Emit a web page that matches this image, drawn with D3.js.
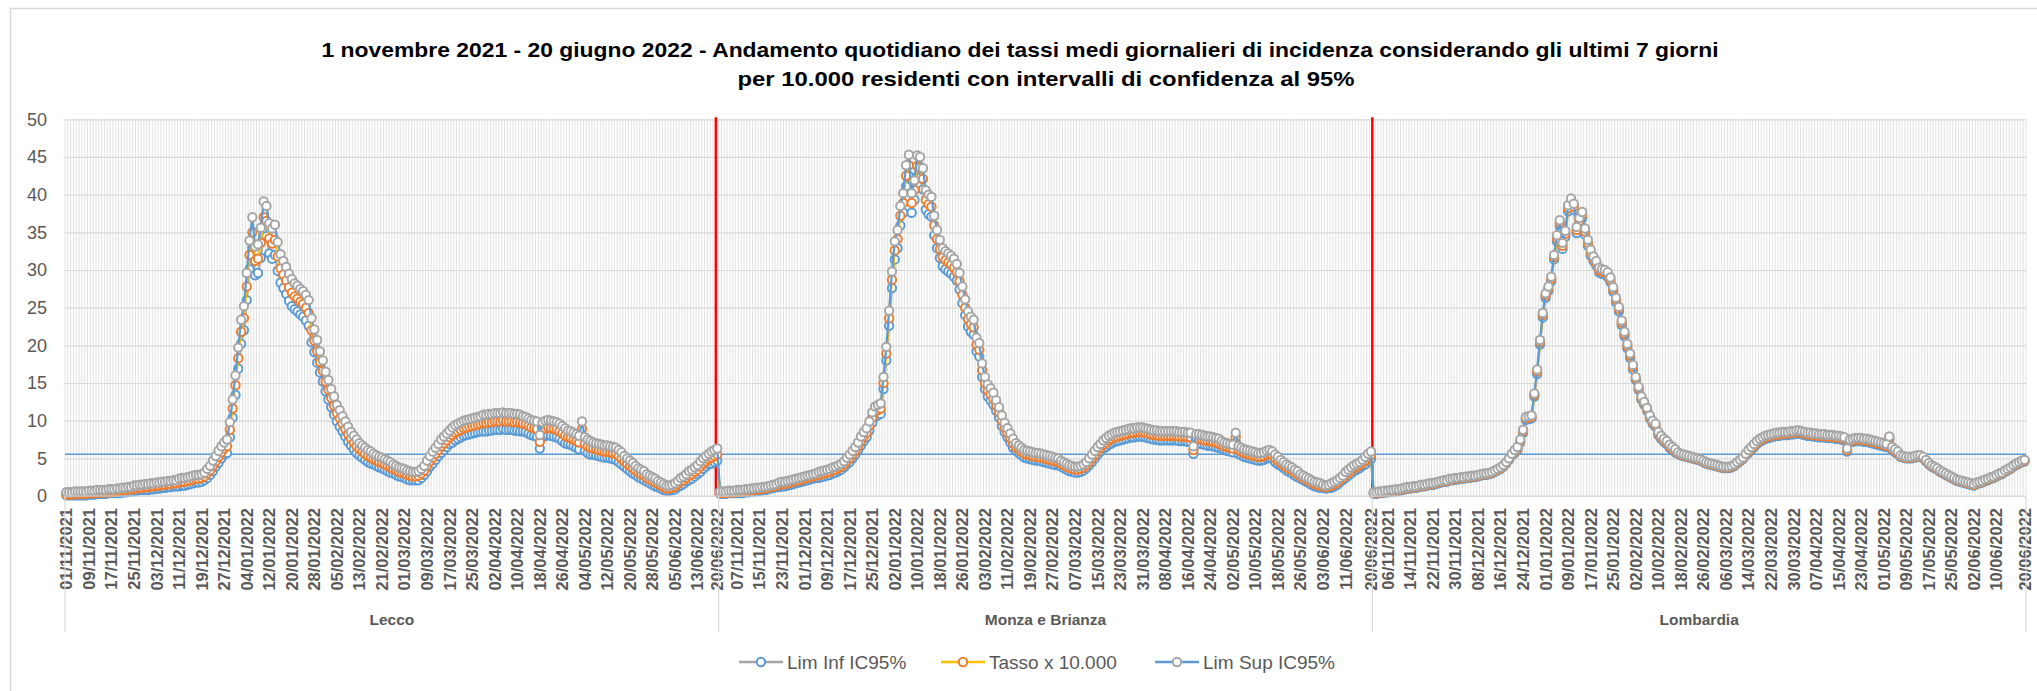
<!DOCTYPE html>
<html>
<head>
<meta charset="utf-8">
<script src="https://cdn.jsdelivr.net/npm/d3@7"></script>
<style>
  html, body { margin: 0; padding: 0; background: #fff; }
  svg { display: block; }
  text { font-family: "Liberation Sans", Arial, sans-serif; }
</style>
</head>
<body>
<div id="chart"></div>
<script>
// ---------- data ----------
const groups = ["Lecco", "Monza e Brianza", "Lombardia"];
const firstDay = new Date(2021, 10, 1), lastDay = new Date(2022, 5, 20);

const lecTasso = [
  0.2,0.2,0.2,0.3,0.3,0.3,0.3,0.3,0.4,0.4, 0.4,0.5,0.5,0.5,0.5,0.6,0.6,0.6,0.7,0.7,
  0.8,0.8,0.9,0.9,1.0,1.0,1.1,1.1,1.2,1.2, 1.3,1.3,1.4,1.4,1.5,1.5,1.6,1.6,1.7,1.7,
  1.8,1.9,1.9,2.0,2.1,2.2,2.3,2.3,2.4,2.6, 3.0,3.4,4.0,4.6,5.2,5.8,6.3,6.6,8.8,11.6,
  14.7,18.3,21.8,23.6,27.8,32.0,35.0,31.2,31.5,33.6, 37.0,36.5,34.2,33.5,34.0,31.8,30.2,29.4,28.6,27.7,
  27.0,26.5,26.2,25.8,25.5,25.0,24.3,22.0,20.6,19.2, 17.8,16.6,15.2,14.1,13.0,12.0,11.0,10.3,9.6,8.9,
  8.2,7.6,7.1,6.6,6.2,5.9,5.6,5.3,5.1,4.9, 4.7,4.5,4.4,4.2,4.0,3.8,3.6,3.4,3.2,3.1,
  3.0,2.8,2.7,2.6,2.6,2.7,3.0,3.4,4.0,4.6, 5.1,5.6,6.1,6.6,7.0,7.4,7.8,8.1,8.4,8.6,
  8.8,9.0,9.1,9.2,9.3,9.4,9.5,9.6,9.7,9.7, 9.8,9.8,9.9,9.9,9.9,10.0,9.9,9.9,9.9,9.8,
  9.8,9.7,9.6,9.5,9.3,9.1,9.0,8.9,7.2,8.8, 9.0,9.1,9.0,8.9,8.8,8.6,8.3,8.0,7.8,7.7,
  7.5,7.3,7.1,8.9,6.9,6.6,6.4,6.3,6.2,6.1, 6.0,5.9,5.9,5.8,5.7,5.6,5.3,5.0,4.6,4.3,
  4.0,3.7,3.4,3.1,2.9,2.7,2.4,2.2,2.0,1.8, 1.6,1.4,1.2,1.0,1.0,1.1,1.3,1.6,1.9,2.1,
  2.4,2.7,2.9,3.2,3.5,3.9,4.3,4.6,4.9,5.1, 5.3,5.5
];
const lecSup = [
  0.5,0.5,0.5,0.6,0.6,0.6,0.6,0.6,0.7,0.7, 0.7,0.8,0.8,0.8,0.8,0.9,0.9,0.9,1.0,1.0,
  1.1,1.1,1.2,1.2,1.4,1.4,1.5,1.5,1.6,1.6, 1.7,1.7,1.8,1.8,1.9,1.9,2.0,2.0,2.1,2.1,
  2.3,2.4,2.4,2.5,2.6,2.7,2.8,2.8,2.9,3.1, 3.6,4.0,4.7,5.3,6.0,6.6,7.1,7.5,9.8,12.8,
  16.0,19.7,23.4,25.2,29.6,33.9,37.0,33.1,33.4,35.6, 39.1,38.5,36.2,35.5,36.0,33.7,32.1,31.2,30.4,29.5,
  28.8,28.2,27.9,27.5,27.2,26.7,26.0,23.6,22.1,20.7, 19.2,18.0,16.5,15.4,14.2,13.2,12.1,11.4,10.6,9.9,
  9.2,8.5,8.0,7.5,7.0,6.7,6.4,6.1,5.9,5.6, 5.4,5.2,5.1,4.9,4.7,4.5,4.2,4.0,3.8,3.7,
  3.6,3.4,3.3,3.2,3.2,3.3,3.6,4.0,4.7,5.3, 5.9,6.4,6.9,7.5,7.9,8.3,8.7,9.1,9.4,9.6,
  9.8,10.0,10.1,10.2,10.3,10.4,10.5,10.6,10.8,10.8, 10.9,10.9,11.0,11.0,11.0,11.1,11.0,11.0,11.0,10.9,
  10.9,10.8,10.6,10.5,10.3,10.1,10.0,9.9,8.1,9.8, 10.0,10.1,10.0,9.9,9.8,9.6,9.3,9.0,8.7,8.6,
  8.4,8.2,8.0,9.9,7.8,7.5,7.3,7.1,7.0,6.9, 6.8,6.7,6.7,6.6,6.5,6.4,6.1,5.8,5.3,5.0,
  4.7,4.4,4.0,3.7,3.5,3.3,2.9,2.7,2.5,2.3, 2.0,1.8,1.6,1.4,1.4,1.5,1.7,2.0,2.4,2.6,
  2.9,3.3,3.5,3.8,4.1,4.6,5.0,5.3,5.6,5.9, 6.1,6.3
];
const lecInf = [
  0.1,0.1,0.1,0.1,0.1,0.1,0.1,0.1,0.2,0.2, 0.2,0.3,0.3,0.3,0.3,0.4,0.4,0.4,0.4,0.4,
  0.5,0.5,0.6,0.6,0.7,0.7,0.8,0.8,0.8,0.8, 0.9,0.9,1.0,1.0,1.1,1.1,1.2,1.2,1.3,1.3,
  1.3,1.4,1.4,1.5,1.6,1.7,1.8,1.8,1.9,2.1, 2.4,2.8,3.3,3.9,4.4,5.0,5.5,5.7,7.8,10.4,
  13.4,16.9,20.2,22.0,26.0,30.1,33.0,29.3,29.6,31.6, 34.9,34.5,32.2,31.5,32.0,29.9,28.3,27.6,26.8,25.9,
  25.2,24.8,24.5,24.1,23.8,23.3,22.6,20.4,19.1,17.7, 16.4,15.2,13.9,12.8,11.8,10.8,9.9,9.2,8.6,7.9,
  7.2,6.7,6.2,5.7,5.4,5.1,4.8,4.5,4.3,4.2, 4.0,3.8,3.7,3.5,3.3,3.1,3.0,2.8,2.6,2.5,
  2.4,2.2,2.1,2.1,2.1,2.1,2.4,2.8,3.3,3.9, 4.3,4.8,5.3,5.7,6.1,6.5,6.9,7.1,7.4,7.6,
  7.8,8.0,8.1,8.2,8.3,8.4,8.5,8.6,8.6,8.6, 8.7,8.7,8.8,8.8,8.8,8.9,8.8,8.8,8.8,8.7,
  8.7,8.6,8.6,8.5,8.3,8.1,8.0,7.9,6.3,7.8, 8.0,8.1,8.0,7.9,7.8,7.6,7.3,7.0,6.9,6.8,
  6.6,6.4,6.2,7.9,6.0,5.7,5.5,5.5,5.4,5.3, 5.2,5.1,5.1,5.0,4.9,4.8,4.5,4.2,3.9,3.6,
  3.3,3.0,2.8,2.5,2.3,2.1,1.9,1.7,1.5,1.3, 1.2,1.0,0.8,0.7,0.7,0.8,0.9,1.2,1.4,1.6,
  1.9,2.1,2.3,2.6,2.9,3.2,3.6,3.9,4.2,4.3, 4.5,4.7
];

const monTasso = [
  0.4,0.4,0.4,0.5,0.5,0.5,0.6,0.6,0.6,0.7, 0.7,0.8,0.8,0.9,0.9,1.0,1.0,1.1,1.2,1.3,
  1.4,1.5,1.6,1.6,1.7,1.8,1.9,2.0,2.1,2.2, 2.3,2.4,2.5,2.6,2.7,2.8,2.9,3.0,3.1,3.2,
  3.4,3.5,3.7,3.9,4.2,4.6,5.0,5.5,6.0,6.6, 7.3,7.9,8.4,9.3,10.4,11.2,11.4,11.6,15.0,18.9,
  23.6,28.7,32.6,34.1,37.2,38.9,42.5,43.9,38.9,40.6, 43.8,43.6,42.1,39.3,38.7,38.4,35.9,34.1,32.8,31.7,
  31.3,31.0,30.7,30.3,29.7,28.5,26.7,25.0,23.5,22.8, 22.4,20.1,19.4,16.7,15.0,14.0,13.5,12.9,12.0,11.1,
  10.0,9.1,8.4,7.7,7.0,6.5,6.2,5.9,5.6,5.5, 5.4,5.3,5.2,5.2,5.1,5.0,4.9,4.8,4.7,4.6,
  4.5,4.3,4.1,3.9,3.7,3.6,3.5,3.5,3.6,3.8, 4.1,4.5,5.0,5.5,6.0,6.4,6.8,7.1,7.4,7.6,
  7.8,7.9,8.0,8.1,8.2,8.3,8.4,8.4,8.5,8.5, 8.5,8.4,8.3,8.2,8.1,8.1,8.0,8.0,8.0,8.0,
  8.0,8.0,8.0,7.9,7.9,7.9,7.8,7.8,6.1,7.6, 7.6,7.5,7.4,7.3,7.3,7.2,7.1,7.0,6.8,6.6,
  6.5,6.4,6.3,7.8,6.1,5.9,5.7,5.6,5.5,5.4, 5.3,5.2,5.2,5.3,5.5,5.6,5.4,5.0,4.7,4.4,
  4.1,3.8,3.6,3.4,3.1,2.9,2.6,2.4,2.2,2.0, 1.8,1.6,1.5,1.4,1.3,1.2,1.3,1.4,1.6,1.8,
  2.1,2.4,2.8,3.1,3.4,3.7,3.9,4.1,4.4,4.7, 5.1,5.4
];
const monSup = [
  0.6,0.6,0.6,0.7,0.7,0.7,0.8,0.8,0.8,0.9, 0.9,1.0,1.0,1.1,1.1,1.2,1.2,1.3,1.4,1.5,
  1.6,1.8,1.9,1.9,2.0,2.1,2.2,2.3,2.4,2.5, 2.6,2.7,2.8,2.9,3.0,3.2,3.3,3.4,3.5,3.6,
  3.8,3.9,4.1,4.3,4.6,5.1,5.5,6.0,6.5,7.1, 7.9,8.5,9.0,9.9,11.1,11.9,12.1,12.3,15.8,19.8,
  24.6,29.8,33.8,35.3,38.5,40.2,43.9,45.3,40.2,41.9, 45.2,45.0,43.5,40.6,40.0,39.7,37.2,35.3,34.0,32.9,
  32.5,32.2,31.9,31.5,30.8,29.6,27.8,26.1,24.5,23.8, 23.4,21.0,20.3,17.6,15.8,14.8,14.3,13.7,12.7,11.8,
  10.7,9.7,9.0,8.3,7.6,7.0,6.7,6.4,6.1,6.0, 5.9,5.8,5.7,5.7,5.6,5.5,5.4,5.3,5.2,5.1,
  5.0,4.7,4.5,4.3,4.1,4.0,3.9,3.9,4.0,4.2, 4.5,5.0,5.5,6.0,6.5,6.9,7.4,7.7,8.0,8.2,
  8.4,8.5,8.6,8.7,8.8,8.9,9.0,9.0,9.1,9.1, 9.1,9.0,8.9,8.8,8.7,8.7,8.6,8.6,8.6,8.6,
  8.6,8.6,8.6,8.5,8.5,8.5,8.4,8.4,6.6,8.2, 8.2,8.1,8.0,7.9,7.9,7.8,7.7,7.6,7.3,7.1,
  7.0,6.9,6.8,8.4,6.6,6.4,6.2,6.1,6.0,5.9, 5.8,5.7,5.7,5.8,6.0,6.1,5.9,5.5,5.2,4.8,
  4.5,4.2,4.0,3.8,3.5,3.3,2.9,2.7,2.5,2.3, 2.1,1.9,1.8,1.7,1.5,1.4,1.5,1.7,1.9,2.1,
  2.4,2.7,3.2,3.5,3.8,4.1,4.3,4.5,4.8,5.2, 5.6,5.9
];
const monInf = [
  0.3,0.3,0.3,0.4,0.4,0.4,0.4,0.4,0.4,0.5, 0.5,0.6,0.6,0.7,0.7,0.8,0.8,0.9,1.0,1.1,
  1.2,1.2,1.3,1.3,1.4,1.5,1.6,1.7,1.8,1.9, 2.0,2.1,2.2,2.3,2.4,2.4,2.5,2.6,2.7,2.8,
  3.0,3.1,3.3,3.5,3.8,4.2,4.5,5.0,5.5,6.1, 6.7,7.3,7.8,8.7,9.7,10.5,10.7,10.9,14.2,18.0,
  22.6,27.6,31.4,32.9,35.9,37.6,41.1,42.5,37.6,39.3, 42.4,42.2,40.7,38.0,37.4,37.1,34.6,32.9,31.6,30.5,
  30.1,29.8,29.5,29.1,28.6,27.4,25.6,24.0,22.5,21.8, 21.4,19.2,18.5,15.8,14.2,13.2,12.7,12.1,11.3,10.4,
  9.3,8.5,7.8,7.1,6.4,6.0,5.7,5.4,5.1,5.0, 4.9,4.8,4.7,4.7,4.6,4.5,4.4,4.3,4.2,4.1,
  4.1,3.9,3.7,3.5,3.3,3.2,3.1,3.1,3.2,3.4, 3.7,4.1,4.5,5.0,5.5,5.9,6.3,6.5,6.8,7.0,
  7.2,7.3,7.4,7.5,7.6,7.7,7.8,7.8,7.9,7.9, 7.9,7.8,7.7,7.6,7.5,7.5,7.4,7.4,7.4,7.4,
  7.4,7.4,7.4,7.3,7.3,7.3,7.2,7.2,5.6,7.0, 7.0,6.9,6.8,6.7,6.7,6.6,6.5,6.4,6.3,6.1,
  6.0,5.9,5.8,7.2,5.6,5.4,5.2,5.1,5.0,4.9, 4.8,4.7,4.7,4.8,5.0,5.1,4.9,4.5,4.2,4.0,
  3.7,3.4,3.2,3.0,2.7,2.5,2.3,2.1,1.9,1.7, 1.5,1.3,1.2,1.1,1.1,1.0,1.1,1.1,1.3,1.5,
  1.8,2.1,2.4,2.7,3.0,3.3,3.5,3.7,4.0,4.2, 4.6,4.9
];

const lomTasso = [
  0.4,0.4,0.5,0.5,0.6,0.6,0.7,0.7,0.8,0.8, 0.9,1.0,1.1,1.1,1.2,1.2,1.3,1.4,1.4,1.5,
  1.6,1.6,1.7,1.8,1.9,2.0,2.0,2.2,2.2,2.3, 2.3,2.4,2.4,2.5,2.5,2.6,2.6,2.7,2.8,2.9,
  2.9,3.0,3.1,3.3,3.5,3.7,4.0,4.4,4.9,5.5, 5.9,6.3,7.3,8.6,10.3,10.4,10.5,13.4,16.5,20.4,
  24.0,26.6,27.5,28.8,31.7,34.2,36.2,33.2,34.8,38.2, 39.1,38.4,35.3,36.5,37.3,35.1,33.6,32.3,31.5,30.9,
  30.0,29.8,29.7,29.4,28.7,27.4,26.0,24.8,23.0,21.5, 19.9,18.6,17.1,15.6,14.3,13.0,12.3,11.5,10.5,9.8,
  9.4,8.3,7.8,7.4,7.1,6.6,6.3,6.0,5.7,5.5, 5.4,5.3,5.2,5.1,5.0,4.9,4.8,4.6,4.4,4.3,
  4.2,4.1,4.0,3.9,3.8,3.8,3.8,3.9,4.1,4.4, 4.7,5.0,5.5,5.9,6.3,6.7,7.1,7.4,7.6,7.8,
  7.9,8.0,8.1,8.2,8.2,8.3,8.3,8.3,8.4,8.4, 8.5,8.5,8.4,8.3,8.2,8.2,8.1,8.1,8.0,8.0,
  8.0,7.9,7.9,7.9,7.8,7.8,7.7,7.6,6.1,7.3, 7.4,7.5,7.5,7.5,7.4,7.4,7.3,7.2,7.1,7.0,
  6.9,6.8,6.7,7.7,6.3,6.0,5.7,5.3,5.2,5.1, 5.1,5.1,5.2,5.3,5.3,5.1,4.7,4.3,4.0,3.8,
  3.6,3.3,3.1,2.9,2.7,2.5,2.3,2.1,2.0,1.9, 1.8,1.7,1.6,1.5,1.7,1.8,1.9,2.1,2.2,2.4,
  2.5,2.7,2.9,3.0,3.3,3.5,3.7,4.0,4.2,4.4, 4.6,4.7
];
const lomSup = [
  0.5,0.5,0.6,0.6,0.7,0.7,0.8,0.8,0.9,0.9, 1.0,1.1,1.2,1.2,1.3,1.3,1.4,1.5,1.5,1.6,
  1.7,1.7,1.8,1.9,2.0,2.1,2.1,2.3,2.3,2.4, 2.4,2.5,2.5,2.6,2.6,2.7,2.7,2.8,2.9,3.0,
  3.0,3.1,3.2,3.4,3.6,3.8,4.1,4.5,5.0,5.6, 6.1,6.5,7.5,8.8,10.5,10.6,10.7,13.6,16.8,20.7,
  24.3,26.9,27.8,29.1,32.0,34.6,36.6,33.6,35.2,38.6, 39.5,38.8,35.7,36.9,37.7,35.5,34.0,32.7,31.8,31.2,
  30.3,30.1,30.0,29.7,29.0,27.7,26.3,25.1,23.3,21.8, 20.2,18.9,17.4,15.8,14.5,13.2,12.5,11.7,10.7,10.0,
  9.6,8.5,8.0,7.6,7.3,6.8,6.5,6.2,5.8,5.6, 5.5,5.4,5.3,5.2,5.1,5.0,4.9,4.7,4.5,4.4,
  4.3,4.2,4.1,4.0,3.9,3.9,3.9,4.0,4.2,4.5, 4.8,5.1,5.6,6.1,6.5,6.9,7.3,7.6,7.8,8.0,
  8.1,8.2,8.3,8.4,8.4,8.5,8.5,8.5,8.6,8.6, 8.7,8.7,8.6,8.5,8.4,8.4,8.3,8.3,8.2,8.2,
  8.2,8.1,8.1,8.1,8.0,8.0,7.9,7.8,6.3,7.5, 7.6,7.7,7.7,7.7,7.6,7.6,7.5,7.4,7.3,7.2,
  7.1,7.0,6.9,7.9,6.5,6.2,5.9,5.4,5.3,5.2, 5.2,5.2,5.3,5.4,5.4,5.2,4.8,4.4,4.1,3.9,
  3.7,3.4,3.2,3.0,2.8,2.6,2.4,2.2,2.1,2.0, 1.9,1.8,1.7,1.6,1.8,1.9,2.0,2.2,2.3,2.5,
  2.6,2.8,3.0,3.1,3.4,3.6,3.8,4.1,4.3,4.5, 4.7,4.8
];
const lomInf = [
  0.3,0.3,0.4,0.4,0.5,0.5,0.6,0.6,0.7,0.7, 0.8,0.9,1.0,1.0,1.1,1.1,1.2,1.3,1.3,1.4,
  1.5,1.5,1.6,1.7,1.8,1.9,1.9,2.1,2.1,2.2, 2.2,2.3,2.3,2.4,2.4,2.5,2.5,2.6,2.7,2.8,
  2.8,2.9,3.0,3.2,3.4,3.6,3.9,4.3,4.8,5.4, 5.7,6.1,7.1,8.4,10.1,10.2,10.3,13.2,16.2,20.1,
  23.7,26.3,27.2,28.5,31.4,33.8,35.8,32.8,34.4,37.8, 38.7,38.0,34.9,36.1,36.9,34.7,33.2,31.9,31.2,30.6,
  29.7,29.5,29.4,29.1,28.4,27.1,25.7,24.5,22.7,21.2, 19.6,18.3,16.8,15.4,14.1,12.8,12.1,11.3,10.3,9.6,
  9.2,8.1,7.6,7.2,6.9,6.4,6.1,5.8,5.6,5.4, 5.3,5.2,5.1,5.0,4.9,4.8,4.7,4.5,4.3,4.2,
  4.1,4.0,3.9,3.8,3.7,3.7,3.7,3.8,4.0,4.3, 4.6,4.9,5.4,5.7,6.1,6.5,6.9,7.2,7.4,7.6,
  7.7,7.8,7.9,8.0,8.0,8.1,8.1,8.1,8.2,8.2, 8.3,8.3,8.2,8.1,8.0,8.0,7.9,7.9,7.8,7.8,
  7.8,7.7,7.7,7.7,7.6,7.6,7.5,7.4,5.9,7.1, 7.2,7.3,7.3,7.3,7.2,7.2,7.1,7.0,6.9,6.8,
  6.7,6.6,6.5,7.5,6.1,5.8,5.6,5.2,5.1,5.0, 5.0,5.0,5.1,5.2,5.2,5.0,4.6,4.2,3.9,3.7,
  3.5,3.2,3.0,2.8,2.6,2.4,2.2,2.0,1.9,1.8, 1.7,1.6,1.5,1.4,1.6,1.7,1.8,2.0,2.1,2.3,
  2.4,2.6,2.8,2.9,3.2,3.4,3.6,3.9,4.1,4.3, 4.5,4.6
];

// horizontal reference line drawn across the whole plot
const refLine = 5.55;

// tick labels shown on the date axis, per group
const lecTicks = ["01/11/2021","09/11/2021","17/11/2021","25/11/2021","03/12/2021","11/12/2021","19/12/2021","27/12/2021",
  "04/01/2022","12/01/2022","20/01/2022","28/01/2022","05/02/2022","13/02/2022","21/02/2022","01/03/2022","09/03/2022",
  "17/03/2022","25/03/2022","02/04/2022","10/04/2022","18/04/2022","26/04/2022","04/05/2022","12/05/2022","20/05/2022",
  "28/05/2022","05/06/2022","13/06/2022","20/06/2022"];
const monTicks = ["07/11/2021","15/11/2021","23/11/2021","01/12/2021","09/12/2021","17/12/2021","25/12/2021","02/01/2022",
  "10/01/2022","18/01/2022","26/01/2022","03/02/2022","11/02/2022","19/02/2022","27/02/2022","07/03/2022","15/03/2022",
  "23/03/2022","31/03/2022","08/04/2022","16/04/2022","24/04/2022","02/05/2022","10/05/2022","18/05/2022","26/05/2022",
  "03/06/2022","11/06/2022","20/06/2022"];
const lomTicks = ["06/11/2021","14/11/2021","22/11/2021","30/11/2021","08/12/2021","16/12/2021","24/12/2021","01/01/2022",
  "09/01/2022","17/01/2022","25/01/2022","02/02/2022","10/02/2022","18/02/2022","26/02/2022","06/03/2022","14/03/2022",
  "22/03/2022","30/03/2022","07/04/2022","15/04/2022","23/04/2022","01/05/2022","09/05/2022","17/05/2022","25/05/2022",
  "02/06/2022","10/06/2022","20/06/2022"];
const yTicks = [0, 5, 10, 15, 20, 25, 30, 35, 40, 45, 50];

const titleLine1 = "1 novembre 2021 - 20 giugno 2022 - Andamento quotidiano dei tassi medi giornalieri di incidenza considerando gli ultimi 7 giorni";
const titleLine2 = "per 10.000 residenti con intervalli di confidenza al 95%";

// ---------- layout ----------
const W = 2037, H = 691;
const plot = { left: 65, right: 2026, top: 119.3, bottom: 496 };
const grey = "#595959", gridCol = "#D9D9D9";

const fmt = d3.timeFormat("%d/%m/%Y");
const dayLabels = d3.timeDay.range(firstDay, d3.timeDay.offset(lastDay, 1)).map(fmt);
const keys = groups.flatMap(g => dayLabels.map(d => g + "|" + d));

const series = [
  { name: "Lim Inf IC95%",  line: "#A5A5A5", marker: "#5B9BD5", values: [...lecInf, ...monInf, ...lomInf] },
  { name: "Tasso x 10.000", line: "#FFC000", marker: "#ED7D31", values: [...lecTasso, ...monTasso, ...lomTasso] },
  { name: "Lim Sup IC95%",  line: "#5B9BD5", marker: "#A5A5A5", values: [...lecSup, ...monSup, ...lomSup] },
];
series.forEach(s => { if (s.values.length !== keys.length) console.warn(s.name, s.values.length, keys.length); });

const x = d3.scaleBand().domain(keys).range([plot.left, plot.right]);
const y = d3.scaleLinear().domain([0, 50]).range([plot.bottom, plot.top]);
const bw = x.bandwidth();
const cx = i => x(keys[i]) + bw / 2;

const svg = d3.select("#chart").append("svg").attr("width", W).attr("height", H);
svg.append("rect").attr("width", W).attr("height", H).attr("fill", "#fff");
svg.append("rect").attr("x", 10.5).attr("y", 8.5).attr("width", W).attr("height", H)
  .attr("fill", "none").attr("stroke", gridCol).attr("stroke-width", 1.5);

// title
svg.append("text").attr("x", 1020).attr("y", 57).attr("text-anchor", "middle")
  .attr("font-size", 21).attr("font-weight", "bold").attr("fill", "#000")
  .attr("textLength", 1397).attr("lengthAdjust", "spacingAndGlyphs").text(titleLine1);
svg.append("text").attr("x", 1046).attr("y", 86).attr("text-anchor", "middle")
  .attr("font-size", 21).attr("font-weight", "bold").attr("fill", "#000")
  .attr("textLength", 617).attr("lengthAdjust", "spacingAndGlyphs").text(titleLine2);

// vertical gridlines, one per category boundary
const gGrid = svg.append("g");
gGrid.selectAll("line.v").data(keys.map(k => x(k)).concat([plot.right])).join("line")
  .attr("class", "v").attr("x1", d => d).attr("x2", d => d)
  .attr("y1", plot.top).attr("y2", plot.bottom)
  .attr("stroke", gridCol).attr("stroke-width", 0.8);

// horizontal gridlines + y labels
const yGrid = svg.append("g").attr("transform", `translate(${plot.left},0)`)
  .call(d3.axisLeft(y).tickValues(yTicks).tickSize(-(plot.right - plot.left)).tickFormat(""));
yGrid.select(".domain").remove();
yGrid.selectAll("line").attr("stroke", gridCol).attr("stroke-width", 1.2);

const yAx = svg.append("g").attr("transform", `translate(${plot.left},0)`)
  .call(d3.axisLeft(y).tickValues(yTicks).tickSize(0).tickPadding(18));
yAx.select(".domain").remove();
yAx.selectAll("text").attr("font-size", 18).attr("fill", grey)
  .attr("font-family", "'Liberation Sans', Arial, sans-serif");

// reference line
svg.append("line").attr("x1", plot.left).attr("x2", plot.right)
  .attr("y1", y(refLine)).attr("y2", y(refLine))
  .attr("stroke", "#5B9BD5").attr("stroke-width", 1.5);

// red separators between the groups
const sepKeys = ["Lecco|20/06/2022", "Lombardia|01/11/2021"];
svg.selectAll("line.sep").data(sepKeys).join("line").attr("class", "sep")
  .attr("x1", d => x(d)).attr("x2", d => x(d))
  .attr("y1", y(50) - 2).attr("y2", y(0))
  .attr("stroke", "#FF0000").attr("stroke-width", 2.5);

// series: line then markers, in Excel order
const line = d3.line().x((d, i) => cx(i)).y(d => y(d));
series.forEach(s => {
  const g = svg.append("g");
  g.append("path").datum(s.values).attr("d", line)
    .attr("fill", "none").attr("stroke", s.line).attr("stroke-width", 2.25)
    .attr("stroke-linejoin", "round");
  g.selectAll("circle").data(s.values).join("circle")
    .attr("cx", (d, i) => cx(i)).attr("cy", d => y(d)).attr("r", 4.2)
    .attr("fill", "#fff").attr("stroke", s.marker).attr("stroke-width", 2);
});

// category axis: dates + group labels
svg.append("line").attr("x1", plot.left).attr("x2", plot.right)
  .attr("y1", plot.bottom).attr("y2", plot.bottom).attr("stroke", gridCol).attr("stroke-width", 1.2);

const tickSets = [lecTicks, monTicks, lomTicks];
const gX = svg.append("g");
groups.forEach((g, gi) => {
  gX.selectAll(null).data(tickSets[gi]).join("text")
    .attr("transform", d => `translate(${x(g + "|" + d) + bw / 2},508) rotate(-90)`)
    .attr("text-anchor", "end").attr("dy", "0.36em")
    .attr("font-size", 16.5).attr("font-weight", "bold").attr("fill", grey)
    .text(d => d);
  const x0 = x(g + "|" + dayLabels[0]);
  const x1 = x(g + "|" + dayLabels[dayLabels.length - 1]) + bw;
  gX.append("text").attr("x", (x0 + x1) / 2).attr("y", 625).attr("text-anchor", "middle")
    .attr("font-size", 15.5).attr("font-weight", "bold").attr("fill", grey).text(g);
});
const dividers = groups.map(g => x(g + "|" + dayLabels[0])).concat([plot.right]);
gX.selectAll("line.div").data(dividers).join("line").attr("class", "div")
  .attr("x1", d => d).attr("x2", d => d).attr("y1", plot.bottom).attr("y2", 632)
  .attr("stroke", gridCol).attr("stroke-width", 1.2);

// legend
const legX = [739, 941, 1155];
const leg = svg.append("g").attr("transform", "translate(0,662)");
series.forEach((s, i) => {
  const g = leg.append("g").attr("transform", `translate(${legX[i]},0)`);
  g.append("line").attr("x1", 0).attr("x2", 44).attr("stroke", s.line).attr("stroke-width", 2.5);
  g.append("circle").attr("cx", 22).attr("r", 4.2).attr("fill", "#fff")
    .attr("stroke", s.marker).attr("stroke-width", 2);
  g.append("text").attr("x", 48).attr("dy", "0.35em").attr("font-size", 19)
    .attr("fill", grey).text(s.name);
});
</script>
</body>
</html>
